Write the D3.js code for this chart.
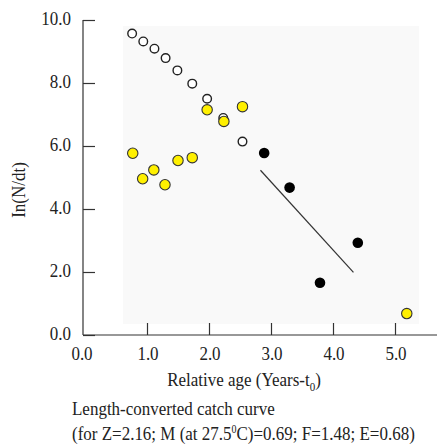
<!DOCTYPE html>
<html><head><meta charset="utf-8">
<script src="https://cdn.jsdelivr.net/npm/d3@7"></script>
<style>body{margin:0;background:#fff}svg{display:block}text{font-family:"Liberation Serif","Times New Roman",serif;fill:#222}</style>
</head><body><svg id="c" width="438" height="447"></svg>
<script>
const xTicks=[0,1,2,3,4,5];
const yTicks=[0,2,4,6,8,10];
const openX=[0.76,0.94,1.12,1.30,1.49,1.73,1.97,2.23,2.54];
const openY=[9.57,9.32,9.09,8.79,8.40,7.98,7.50,6.89,6.14];
const yellowX=[1.97,2.24,2.54,0.77,0.93,1.11,1.29,1.50,1.73,5.19];
const yellowY=[7.15,6.78,7.25,5.77,4.96,5.24,4.77,5.54,5.63,0.68];
const blackX=[2.89,3.30,4.40,3.79];
const blackY=[5.78,4.68,2.93,1.66];
const lineX=[2.83,4.33];
const lineY=[5.23,1.99];

const svg=d3.select("#c");
const x=d3.scaleLinear().domain([0,5]).range([85,395]);
const y=d3.scaleLinear().domain([0,10]).range([335,20]);
const SY=1.15;
function txt(px,py,size,anchor,rot){
  const t=svg.append("text").attr("font-size",size).attr("text-anchor",anchor||"start");
  t.attr("transform",rot?`translate(${px},${py}) rotate(-90) scale(1,${SY})`:`translate(${px},${py}) scale(1,${SY})`);
  return t;
}

svg.append("rect").attr("x",123).attr("y",26).attr("width",296).attr("height",298).attr("fill","#f9f9f9");

// y axis
const ya=svg.append("g").attr("transform","translate(83,0)")
 .call(d3.axisRight(y).tickValues(yTicks).tickSize(12).tickFormat(""));
ya.select(".domain").attr("d","M0,20V335");
ya.selectAll("line,path").attr("stroke","#333").attr("stroke-width",1.2);
yTicks.forEach(d=>txt(71,y(d)+5,17,"end").text(d.toFixed(1)));

// x axis
const xa=svg.append("g").attr("transform","translate(0,335)")
 .call(d3.axisTop(x).tickValues(xTicks.slice(1)).tickSize(12).tickFormat(""));
xa.select(".domain").attr("d","M83,0H437");
xa.selectAll("line,path").attr("stroke","#333").attr("stroke-width",1.2);
xTicks.forEach(d=>txt(d===0?82:x(d)+1,360,17,"middle").text(d.toFixed(1)));

// fitted line
svg.append("line").attr("x1",x(lineX[0])).attr("y1",y(lineY[0])).attr("x2",x(lineX[1])).attr("y2",y(lineY[1]))
 .attr("stroke","#333").attr("stroke-width",1.2);

svg.selectAll(".o").data(openX).enter().append("circle").attr("class","o")
 .attr("cx",d=>x(d)).attr("cy",(d,i)=>y(openY[i])).attr("r",4.3).attr("fill","#fff").attr("stroke","#222").attr("stroke-width",1.4);
svg.selectAll(".yl").data(yellowX).enter().append("circle").attr("class","yl")
 .attr("cx",d=>x(d)).attr("cy",(d,i)=>y(yellowY[i])).attr("r",5.2).attr("fill","#fff000").attr("stroke","#333").attr("stroke-width",1.1);
svg.selectAll(".bk").data(blackX).enter().append("circle").attr("class","bk")
 .attr("cx",d=>x(d)).attr("cy",(d,i)=>y(blackY[i])).attr("r",5.3).attr("fill","#000");

// labels
txt(25,190,17,"middle",true).text("In(N/dt)");
const xl=txt(244,386,17,"middle");
xl.append("tspan").text("Relative age (Years-t");
xl.append("tspan").attr("font-size",11).attr("dy",4).text("0");
xl.append("tspan").attr("dy",-4).text(")");
txt(72,415,17,"start").text("Length-converted catch curve");
const c2=txt(72,440,17,"start");
c2.append("tspan").text("(for Z=2.16; M (at 27.5");
c2.append("tspan").attr("font-size",10).attr("dy",-6).text("0");
c2.append("tspan").attr("dy",6).text("C)=0.69; F=1.48; E=0.68)");
</script></body></html>
